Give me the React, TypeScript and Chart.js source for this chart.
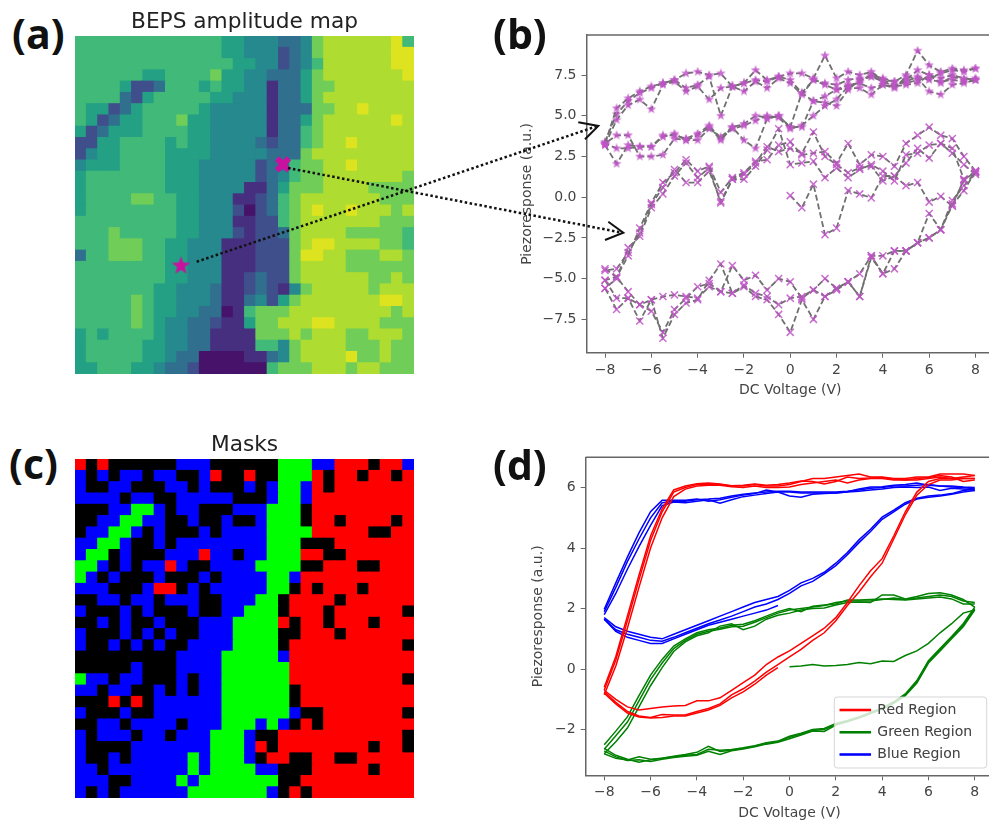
import React, { useEffect, useRef } from "react";
import { Chart, registerables } from "chart.js";

Chart.register(...registerables);

const FONT = "'DejaVu Sans'";
const TEXT = "#444";
const SPINE = "#666";

// ---------- (a) amplitude map: one digit per cell, 0 (low) to 9 (high) ----------
const amplitudeRows = [
  "666666666666655444334788888896",
  "666666666666655444234788888899",
  "666666666666665544234688888899",
  "666666556666755443335788888889",
  "666652236665655441335778888888",
  "666632566666554441335788888888",
  "655235666665444441333778898888",
  "652355666755444441335788888898",
  "523555666655444441336788888888",
  "225566665655444432336788988888",
  "245566665555444443337888888888",
  "455566665554444423367788988888",
  "566666665554444423467788888887",
  "566666665554444113577788887777",
  "566667766554441123678888888777",
  "566666666554442023678988988878",
  "666666666554441122678888888777",
  "666766666554442122378888777776",
  "666777665544411122278998888776",
  "366777665544411122279988777887",
  "666666665544411122278888777777",
  "666666665544411232278888887787",
  "666666655444311232147888887888",
  "666667655444311342578888888998",
  "666667655443301677788888888878",
  "666667654433211577888998888777",
  "565666654433111177787888778887",
  "566666554433111166478888777877",
  "566666554330000113478888977877",
  "556665543320000006777888788777",
];
const amplitudePalette = [
  "#47126a", "#472f80", "#3f4f8b", "#30708e", "#25898e",
  "#24a084", "#41b978", "#70ce58", "#aedc30", "#dde31f",
];
const starCell = [8.88, 19.9];
const crossCell = [17.9, 10.9];

// ---------- (c) masks: R, G, B or K per cell ----------
const maskRows = [
  "RKRKKKKKKBBBKKKKKKGGGBBRRRKRRB",
  "BKBKBBKBBKKBRKKRKKGGGRKRRKRRKR",
  "BKKBBKKKBBKBKKKBKBGGBRKRRRRRRR",
  "BBBBKBBKKBBBBBKKKBGGBRRRRRRRRR",
  "KKKBBGGBKBBKKKBBBGGGKRRRRRRRRR",
  "KKBBGGBBKKBKKBKKBGGGKRRKRRRRKR",
  "KBBGGBKBKKKBKBBBBGGGGRRRRRKKRR",
  "BBGGBKKBKBBBBBBBBGGGKKKRRRRRRR",
  "BGGKBKKKBBBRBBKBBGGGRRKKRRRRRR",
  "GGBKBKBBRBKKBBBBGGGGKKRRRKKRRR",
  "GBKBKKKBKKKBKBBBBGGBRRRRRRRRRR",
  "BBBKKKBRRKBKBBBBBGGKRKRRRKRRRR",
  "KKBBKBBKBBBKKBBBGGKRRRRKRRRRRR",
  "BKKKBKBKKKBKKBBGGGKRRRKRRRRRRK",
  "KKBKBKKBKKKBBBGGGGRKRRKRRRKRRR",
  "BKKKBKBKBKKBBBGGGGKKRRRKRRRRRR",
  "BKKBKBKBKKBBBBGGGGKRRRRRRRRRRK",
  "KKKKKKKKKBBBBGGGGGBRRRRRRRRRRR",
  "KKKKKBKKKBBBBGGGGGGRRRRRRRRRRR",
  "GBBKBBKKKBKBBGGGGGGRRRRRRRRRRK",
  "BBKBBKKBKBKBBGGGGGGKRRRRRRRRRR",
  "KKKRKRKBBBBBBGGGGGGKRRRRRRRRRR",
  "BKKKBKKBBBBBBGGGGGGBKKRRRRRRRK",
  "KKBBKBBBBKBBBGGGBGBKRKRRRRRRRR",
  "BKBBBKBBKBBBGGGBKKRRRRRRRRRRRK",
  "BKKKKBBBBBBBGGGBRKRRRRRRRRKRRK",
  "BKKBKBBBBBGBGGGBKRRKKRRKKRRRRR",
  "BBKBBBBBBBGBGGGGBBKKKRRRRRKRRR",
  "BBBKKBBBBGBGGGGGGGKKRRRRRRRRRR",
  "BKBKBBBBBBGGGGGGGBKRKRRRRRRRRR",
];
const maskPalette: Record<string, string> = { R: "#ff0000", G: "#00ff00", B: "#0000ff", K: "#000000" };

// ---------- voltage sweeps ----------
const voltsUp = [-8, -7.5, -7, -6.5, -6, -5.5, -5, -4.5, -4, -3.5, -3, -2.5, -2, -1.5, -1, -0.5, 0, 0.5, 1, 1.5, 2, 2.5, 3, 3.5, 4, 4.5, 5, 5.5, 6, 6.5, 7, 7.5, 8];
const voltsDown = [8, 7.5, 7, 6.5, 6, 5.5, 5, 4.5, 4, 3.5, 3, 2.5, 2, 1.5, 1, 0.5, 0, -0.5, -1, -1.5, -2, -2.5, -3, -3.5, -4, -4.5, -5, -5.5, -6, -6.5, -7, -7.5, -8];
const voltsStart = [0, 0.5, 1, 1.5, 2, 2.5, 3, 3.5, 4, 4.5, 5, 5.5, 6, 6.5, 7, 7.5, 8];
const voltsEnd = [-0.5, -1, -1.5, -2, -2.5, -3, -3.5, -4, -4.5, -5, -5.5, -6, -6.5, -7, -7.5, -8];

// ---------- (b) star-marked pixel ----------
const starUp1 = [3.3, 5.46, 6.07, 6.5, 6.8, 7.0, 7.2, 7.6, 7.7, 7.5, 7.6, 6.8, 7.0, 7.8, 7.2, 7.4, 7.6, 7.6, 7.3, 8.7, 7.3, 7.7, 7.5, 7.7, 7.2, 7.1, 7.5, 9.0, 8.1, 7.7, 7.9, 7.8, 7.9];
const starUp2 = [3.2, 4.75, 5.65, 6.0, 5.4, 6.9, 7.1, 6.5, 6.8, 6.0, 6.7, 6.8, 6.5, 7.1, 6.7, 7.3, 7.0, 6.3, 7.2, 6.9, 6.6, 6.7, 6.7, 6.3, 6.9, 6.7, 7.4, 7.3, 6.5, 6.3, 6.9, 7.0, 7.2];
const starUp3 = [3.4, 5.1, 5.9, 6.4, 6.7, 7.0, 7.2, 6.7, 6.9, 7.4, 5.0, 6.8, 7.0, 7.2, 7.1, 7.4, 7.2, 6.4, 5.9, 5.8, 5.6, 6.6, 7.2, 7.4, 7.1, 6.8, 7.2, 7.8, 7.5, 7.3, 7.5, 7.3, 7.2];
const starDown1 = [7.2, 7.1, 7.2, 7.1, 7.2, 7.4, 7.1, 6.9, 7.2, 7.4, 7.3, 7.2, 6.9, 7.0, 7.2, 6.4, 4.3, 5.0, 4.9, 5.0, 4.5, 4.3, 3.5, 4.3, 3.8, 3.5, 3.9, 3.7, 3.1, 3.1, 3.0, 3.0, 3.3];
const starDown2 = [7.3, 7.2, 7.4, 7.0, 7.5, 7.0, 6.9, 6.8, 6.9, 6.7, 7.0, 6.9, 6.6, 6.2, 5.9, 4.3, 4.3, 5.0, 4.8, 3.0, 3.5, 4.3, 3.7, 4.2, 3.5, 3.5, 3.6, 2.6, 2.5, 2.5, 3.8, 3.8, 3.3];
const starDown3 = [7.9, 7.7, 7.8, 7.6, 7.3, 7.2, 7.0, 7.1, 7.3, 7.5, 7.1, 6.8, 6.0, 5.6, 5.0, 4.4, 4.2, 4.9, 5.0, 4.7, 4.4, 4.2, 3.6, 4.4, 3.9, 3.6, 3.8, 3.8, 3.1, 3.1, 3.2, 2.05, 3.2];

// ---------- (b) cross-marked pixel ----------
const crossUp1 = [-5.6, -6.9, -6.2, -7.6, -6.3, -8.66, -7.2, -6.5, -6.3, -5.1, -4.1, -5.9, -5.5, -6.1, -6.3, -7.2, -8.3, -6.3, -7.5, -6.1, -5.6, -5.2, -6.1, -3.7, -4.7, -4.4, -3.3, -2.8, -2.5, -2.0, -0.5, 0.4, 1.6];
const crossUp2 = [-5.1, -6.2, -6.2, -6.6, -7.0, -8.3, -6.9, -6.2, -5.5, -5.3, -5.8, -4.2, -5.1, -4.8, -5.7, -5.0, -5.2, -6.2, -5.7, -5.0, -5.6, -5.2, -4.7, -3.6, -3.6, -3.3, -3.3, -2.8, -1.0, -2.0, -0.2, 0.7, 1.5];
const crossUp3 = [-4.4, -4.9, -5.8, -6.6, -6.3, -6.1, -6.0, -6.1, -6.2, -5.5, -5.8, -5.9, -5.4, -5.9, -6.1, -6.6, -6.2, -6.1, -5.7, -6.1, -5.7, -5.2, -6.1, -3.6, -4.7, -3.3, -3.3, -2.8, -2.5, -2.0, -0.4, 1.0, 1.6];
const crossDown1 = [1.6, 2.5, 3.6, 3.8, 4.3, 3.8, 3.3, 1.9, 2.5, 2.6, 2.0, 3.3, 2.1, 2.8, 2.7, 2.6, 3.4, 3.2, 2.3, 2.2, 1.5, 1.2, 0.3, 1.9, 1.6, 2.3, 1.5, 0.9, -0.35, -1.9, -3.6, -4.9, -5.1];
const crossDown2 = [1.5, 1.1, 3.0, 3.3, 3.2, 2.7, 2.6, 1.0, 1.6, 2.0, 1.7, 1.2, 1.8, 1.2, 2.2, 2.1, 2.0, 4.2, 2.9, 1.9, 1.1, 1.1, -0.25, 1.6, 0.9, 0.9, 1.7, 0.6, -0.45, -2.2, -3.4, -4.4, -4.5];
const crossDown3 = [1.4, 2.0, 2.7, 3.3, 2.4, 3.0, 2.1, 1.3, 1.0, 1.9, 1.8, 1.5, 2.0, 2.5, 4.0, 2.7, 3.0, 2.8, 3.1, 2.1, 1.4, 1.1, -0.35, 1.8, 1.2, 2.1, 1.3, 0.2, -0.65, -2.4, -3.1, -5.0, -5.6];
const crossStart = [0.1, -0.65, 0.8, -2.3, -1.9, 0.4, 0.2, -0.05, 1.3, 1.3, 0.7, 0.9, -0.3, 0.05, -0.55, 1.1, 1.6];

// ---------- (d) region averages ----------
const redUp1 = [-0.7, 0.3, 1.6, 2.95, 4.25, 5.2, 5.85, 6.0, 6.1, 6.12, 6.1, 6.05, 6.05, 6.1, 6.05, 6.05, 6.1, 6.2, 6.3, 6.3, 6.35, 6.4, 6.45, 6.35, 6.35, 6.3, 6.3, 6.35, 6.35, 6.45, 6.45, 6.45, 6.4];
const redUp2 = [-0.85, 0.1, 1.35, 2.7, 4.0, 5.0, 5.7, 5.95, 6.05, 6.08, 6.08, 6.03, 6.0, 6.05, 6.0, 6.0, 6.02, 6.1, 6.15, 6.2, 6.25, 6.15, 6.25, 6.3, 6.3, 6.25, 6.25, 6.25, 6.3, 6.35, 6.3, 6.3, 6.3];
const redUp3 = [-0.6, 0.42, 1.75, 3.1, 4.4, 5.3, 5.92, 6.05, 6.13, 6.15, 6.12, 6.06, 6.08, 6.12, 6.08, 6.1, 6.15, 6.22, 6.2, 6.12, 6.2, 6.35, 6.3, 6.32, 6.33, 6.28, 6.25, 6.3, 6.33, 6.4, 6.35, 6.2, 6.25];
const redLow1 = [6.4, 6.35, 6.3, 6.3, 6.2, 5.85, 5.2, 4.4, 3.65, 3.25, 2.75, 2.2, 1.7, 1.35, 1.1, 0.85, 0.6, 0.4, 0.15, -0.2, -0.45, -0.7, -0.95, -1.05, -1.05, -1.2, -1.22, -1.25, -1.3, -1.35, -1.25, -1.0, -0.7];
const redLow2 = [6.3, 6.3, 6.25, 6.25, 6.1, 5.75, 5.1, 4.3, 3.5, 3.05, 2.55, 2.1, 1.6, 1.2, 0.95, 0.65, 0.4, 0.15, -0.1, -0.4, -0.65, -0.85, -1.15, -1.3, -1.4, -1.52, -1.52, -1.5, -1.6, -1.55, -1.4, -1.1, -0.75];
const redEnd = [0.05, -0.2, -0.5, -0.75, -0.95, -1.2, -1.35, -1.45, -1.55, -1.55, -1.6, -1.62, -1.58, -1.45, -1.15, -0.8];

const greenUp1 = [-2.65, -2.2, -1.75, -1.05, -0.35, 0.2, 0.68, 0.95, 1.15, 1.25, 1.32, 1.4, 1.42, 1.55, 1.7, 1.85, 1.95, 2.0, 2.05, 2.1, 2.2, 2.25, 2.25, 2.25, 2.3, 2.35, 2.3, 2.35, 2.4, 2.45, 2.4, 2.25, 2.2];
const greenUp2 = [-2.8, -2.4, -1.95, -1.25, -0.55, 0.05, 0.58, 0.9, 1.1, 1.2, 1.42, 1.5, 1.3, 1.42, 1.65, 1.78, 1.85, 1.95, 2.0, 2.02, 2.12, 2.2, 2.22, 2.2, 2.45, 2.45, 2.32, 2.4, 2.5, 2.52, 2.45, 2.3, 2.05];
const greenUp3 = [-2.5, -2.05, -1.58, -0.88, -0.2, 0.32, 0.76, 1.0, 1.2, 1.3, 1.36, 1.45, 1.48, 1.6, 1.75, 1.9, 2.0, 1.9, 2.08, 2.12, 2.15, 2.28, 2.28, 2.3, 2.32, 2.3, 2.28, 2.32, 2.35, 2.38, 2.32, 2.15, 2.15];
const greenLow1 = [2.0, 1.45, 1.05, 0.65, 0.25, -0.42, -0.85, -1.1, -1.3, -1.45, -1.6, -1.72, -1.83, -2.0, -2.03, -2.15, -2.25, -2.4, -2.45, -2.55, -2.62, -2.68, -2.72, -2.55, -2.75, -2.82, -2.88, -2.95, -2.98, -2.9, -3.0, -2.95, -2.8];
const greenLow2 = [1.95, 1.4, 1.0, 0.6, 0.2, -0.46, -0.88, -1.13, -1.33, -1.47, -1.62, -1.74, -1.85, -2.06, -2.05, -2.18, -2.3, -2.42, -2.48, -2.57, -2.64, -2.7, -2.82, -2.72, -2.85, -2.88, -2.92, -2.98, -3.05, -3.0, -3.02, -2.9, -2.7];
const greenLow3 = [2.05, 1.5, 1.08, 0.68, 0.28, -0.38, -0.82, -1.08, -1.28, -1.43, -1.58, -1.7, -1.8, -1.96, -2.0, -2.12, -2.22, -2.38, -2.43, -2.53, -2.6, -2.66, -2.68, -2.65, -2.82, -2.85, -2.9, -2.95, -3.0, -3.08, -2.98, -2.85, -2.62];
const greenStart = [0.08, 0.1, 0.15, 0.1, 0.12, 0.15, 0.22, 0.18, 0.27, 0.25, 0.45, 0.6, 0.85, 1.2, 1.5, 1.85, 1.95];

const blueUp1 = [1.9, 2.7, 3.55, 4.3, 5.0, 5.5, 5.55, 5.55, 5.6, 5.62, 5.65, 5.72, 5.78, 5.82, 5.85, 5.88, 5.88, 5.85, 5.85, 5.85, 5.85, 5.88, 5.92, 5.98, 6.0, 6.05, 6.05, 6.08, 6.1, 6.05, 6.02, 6.0, 5.95];
const blueUp2 = [1.8, 2.5, 3.3, 4.05, 4.75, 5.4, 5.52, 5.5, 5.55, 5.6, 5.48, 5.6, 5.7, 5.75, 5.8, 5.85, 5.72, 5.68, 5.78, 5.8, 5.82, 5.85, 5.88, 5.92, 5.95, 6.0, 6.02, 6.0, 6.02, 5.9, 5.98, 5.95, 5.9];
const blueUp3 = [1.98, 2.85, 3.7, 4.5, 5.2, 5.58, 5.58, 5.58, 5.62, 5.55, 5.6, 5.68, 5.75, 5.8, 5.92, 5.85, 5.85, 5.82, 5.82, 5.82, 5.82, 5.86, 5.95, 6.02, 6.03, 6.08, 6.1, 6.15, 6.08, 6.05, 6.05, 6.02, 6.0];
const blueLow1 = [5.95, 5.9, 5.8, 5.75, 5.72, 5.65, 5.5, 5.25, 5.02, 4.62, 4.27, 3.85, 3.5, 3.2, 3.0, 2.85, 2.6, 2.4, 2.3, 2.2, 2.05, 1.9, 1.75, 1.6, 1.45, 1.3, 1.15, 1.0, 1.05, 1.15, 1.25, 1.4, 1.7];
const blueLow2 = [5.9, 5.85, 5.78, 5.72, 5.68, 5.62, 5.45, 5.2, 4.95, 4.55, 4.18, 3.78, 3.42, 3.15, 2.9, 2.75, 2.5, 2.3, 2.15, 2.05, 1.9, 1.75, 1.62, 1.5, 1.35, 1.2, 1.05, 0.92, 0.95, 1.05, 1.15, 1.3, 1.65];
const blueEnd = [2.1, 1.95, 1.85, 1.75, 1.65, 1.55, 1.45, 1.3, 1.15, 1.0, 0.85, 0.85, 0.95, 1.05, 1.25, 1.65];

const xTicks = { min: -8.8, max: 8.8, stepSize: 2 };

const pairUp = (xs: number[], ys: number[]) => ys.map((y, i) => ({ x: xs[i], y }));
const minus = (s: string) => s.replace("-", "\u2212");

function starImage(size: number, color: string) {
  const c = document.createElement("canvas");
  c.width = size;
  c.height = size;
  const g = c.getContext("2d")!;
  const R = size / 2;
  const r = R * 0.42;
  g.beginPath();
  for (let i = 0; i < 10; i++) {
    const a = -Math.PI / 2 + (i * Math.PI) / 5;
    const q = i % 2 ? r : R;
    g.lineTo(R + q * Math.cos(a), R + q * Math.sin(a));
  }
  g.closePath();
  g.fillStyle = color;
  g.fill();
  return c;
}

function gridData(rows: string[], colorOf: (ch: string) => string) {
  const pts: { x: number; y: number }[] = [];
  const colors: string[] = [];
  rows.forEach((row, r) => {
    row.split("").forEach((ch, c) => {
      pts.push({ x: c, y: r });
      colors.push(colorOf(ch));
    });
  });
  return { pts, colors };
}

function heatmapConfig(title: string, rows: string[], colorOf: (ch: string) => string, extra: any[], titleTop: number) {
  const { pts, colors } = gridData(rows, colorOf);
  return {
    type: "scatter",
    data: {
      datasets: [
        ...extra,
        {
          data: pts,
          pointStyle: "rect",
          pointRadius: 8.6,
          pointHoverRadius: 8.6,
          pointBorderWidth: 0,
          pointBackgroundColor: colors,
        },
      ],
    },
    options: {
      animation: false,
      responsive: false,
      devicePixelRatio: 1,
      layout: { padding: 0, autoPadding: false },
      events: [],
      plugins: {
        legend: { display: false },
        tooltip: { enabled: false },
        title: {
          display: true,
          text: title,
          color: "#222",
          font: { family: FONT, size: 21.7, weight: "normal" },
          padding: { top: titleTop, bottom: 1 },
        },
      },
      scales: {
        x: { type: "linear", display: false, min: -0.5, max: 29.5 },
        y: { type: "linear", display: false, min: -0.5, max: 29.5, reverse: true },
      },
    },
  };
}

const topSpine = {
  id: "topSpine",
  afterDraw(chart: any) {
    const { ctx, chartArea: a } = chart;
    ctx.save();
    ctx.strokeStyle = SPINE;
    ctx.lineWidth = 1.5;
    ctx.beginPath();
    ctx.moveTo(a.left, a.top);
    ctx.lineTo(a.right, a.top);
    ctx.stroke();
    ctx.restore();
  },
};

const legendOverlay = {
  id: "legendOverlay",
  afterLayout(chart: any) {
    const { legend, chartArea: a } = chart;
    legend.left = a.right - 161.3;
    legend.right = a.right;
    legend.top = a.bottom - 80.6;
    legend.bottom = a.bottom;
  },
  afterDatasetsDraw(chart: any) {
    const { ctx, legend } = chart;
    ctx.save();
    ctx.beginPath();
    ctx.roundRect(legend.left + 2.3, legend.top + 2.3, 152.4, 71, 3);
    ctx.fillStyle = "rgba(255,255,255,0.8)";
    ctx.fill();
    ctx.strokeStyle = "rgba(204,204,204,0.8)";
    ctx.lineWidth = 1;
    ctx.stroke();
    ctx.restore();
    legend.draw();
  },
};

function lineConfig(datasets: any[], yRange: any, opts: any) {
  const tickFont = { family: FONT, size: 14 };
  return {
    type: "scatter",
    data: { datasets },
    plugins: opts.plugins,
    options: {
      animation: false,
      responsive: false,
      devicePixelRatio: 1,
      events: [],
      layout: { autoPadding: false, padding: { top: opts.padTop, right: opts.padRight, left: 0, bottom: 0 } },
      plugins: { legend: opts.legend, tooltip: { enabled: false }, title: { display: false } },
      scales: {
        x: {
          type: "linear",
          min: xTicks.min,
          max: xTicks.max,
          afterFit: (s: any) => {
            s.height = opts.xHeight;
            s.paddingLeft = 0;
            s.paddingRight = 0;
          },
          grid: { drawOnChartArea: false, drawTicks: true, tickLength: 5, tickColor: SPINE, tickWidth: 1 },
          border: { display: true, color: SPINE, width: 1.5 },
          ticks: {
            stepSize: xTicks.stepSize,
            includeBounds: false,
            autoSkip: false,
            maxRotation: 0,
            minRotation: 0,
            padding: 4,
            color: TEXT,
            font: tickFont,
            callback: (v: number) => minus(String(v)),
          },
          title: {
            display: true,
            text: "DC Voltage (V)",
            color: TEXT,
            font: tickFont,
            padding: { top: 0, bottom: opts.xTitlePad },
          },
        },
        y: {
          type: "linear",
          min: yRange.min,
          max: yRange.max,
          afterFit: (s: any) => {
            s.width = opts.yWidth;
            s.paddingTop = 0;
            s.paddingBottom = 0;
          },
          grid: { drawOnChartArea: false, drawTicks: true, tickLength: 5, tickColor: SPINE, tickWidth: 1 },
          border: { display: true, color: SPINE, width: 1.5 },
          ticks: {
            stepSize: yRange.step,
            includeBounds: false,
            autoSkip: false,
            padding: 5,
            color: TEXT,
            font: tickFont,
            callback: (v: number) => minus(yRange.step % 1 ? v.toFixed(1) : String(v)),
          },
          title: {
            display: true,
            text: "Piezoresponse (a.u.)",
            color: TEXT,
            font: tickFont,
            padding: { top: opts.yTitlePad, bottom: 0 },
          },
        },
      },
    },
  };
}

function useChart(make: () => any) {
  const ref = useRef<HTMLCanvasElement | null>(null);
  useEffect(() => {
    const chart = new Chart(ref.current as any, make());
    return () => chart.destroy();
  }, []);
  return ref;
}

const LINE_GREY = "#707070";
const MARK = "rgba(192,84,200,0.85)";

function makeA() {
  const markers = [
    {
      data: [{ x: crossCell[0], y: crossCell[1] }],
      pointStyle: "crossRot",
      pointRadius: 8.5,
      pointBorderWidth: 6,
      pointBorderColor: "#c9119f",
    },
    {
      data: [{ x: starCell[0], y: starCell[1] }],
      pointStyle: starImage(19, "#c9119f"),
      pointRadius: 9,
    },
  ];
  return heatmapConfig("BEPS amplitude map", amplitudeRows, (ch) => amplitudePalette[Number(ch)], markers, 0);
}

function makeC() {
  return heatmapConfig("Masks", maskRows, (ch) => maskPalette[ch], [], 2);
}

function makeB() {
  const star = starImage(10, MARK);
  const dashed = (xs: number[], ys: number[], marker: any, extra: any) => ({
    data: pairUp(xs, ys),
    showLine: true,
    tension: 0,
    borderColor: LINE_GREY,
    borderWidth: 1.8,
    borderDash: [6, 3],
    pointStyle: marker,
    pointBorderColor: MARK,
    pointBackgroundColor: MARK,
    ...extra,
  });
  const s = { pointRadius: 5, pointBorderWidth: 0 };
  const x = { pointRadius: 5, pointBorderWidth: 1.5 };
  const datasets = [
    dashed(voltsUp, starUp1, star, s),
    dashed(voltsUp, starUp2, star, s),
    dashed(voltsUp, starUp3, star, s),
    dashed(voltsDown, starDown1, star, s),
    dashed(voltsDown, starDown2, star, s),
    dashed(voltsDown, starDown3, star, s),
    dashed(voltsUp, crossUp1, "crossRot", x),
    dashed(voltsUp, crossUp2, "crossRot", x),
    dashed(voltsUp, crossUp3, "crossRot", x),
    dashed(voltsDown, crossDown1, "crossRot", x),
    dashed(voltsDown, crossDown2, "crossRot", x),
    dashed(voltsDown, crossDown3, "crossRot", x),
    dashed(voltsStart, crossStart, "crossRot", x),
  ];
  return lineConfig(datasets, { min: -9.55, max: 9.96, step: 2.5 }, {
    plugins: [topSpine],
    legend: { display: false },
    padTop: 1,
    padRight: 6,
    xHeight: 50.3,
    yWidth: 76.5,
    xTitlePad: 3.9,
    yTitlePad: 8.6,
  });
}

function makeD() {
  const solid = (xs: number[], ys: number[], color: string, label?: string) => ({
    label,
    data: pairUp(xs, ys),
    showLine: true,
    tension: 0,
    borderColor: color,
    backgroundColor: color,
    borderWidth: 1.5,
    pointRadius: 0,
  });
  const RED = "#ff0000";
  const GREEN = "#008000";
  const BLUE = "#0000ff";
  const datasets = [
    solid(voltsUp, redUp1, RED, "Red Region"),
    solid(voltsUp, redUp2, RED),
    solid(voltsUp, redUp3, RED),
    solid(voltsDown, redLow1, RED),
    solid(voltsDown, redLow2, RED),
    solid(voltsEnd, redEnd, RED),
    solid(voltsUp, greenUp1, GREEN, "Green Region"),
    solid(voltsUp, greenUp2, GREEN),
    solid(voltsUp, greenUp3, GREEN),
    solid(voltsDown, greenLow1, GREEN),
    solid(voltsDown, greenLow2, GREEN),
    solid(voltsDown, greenLow3, GREEN),
    solid(voltsStart, greenStart, GREEN),
    solid(voltsUp, blueUp1, BLUE, "Blue Region"),
    solid(voltsUp, blueUp2, BLUE),
    solid(voltsUp, blueUp3, BLUE),
    solid(voltsDown, blueLow1, BLUE),
    solid(voltsDown, blueLow2, BLUE),
    solid(voltsEnd, blueEnd, BLUE),
  ];
  return lineConfig(datasets, { min: -3.51, max: 7.0, step: 2 }, {
    plugins: [topSpine, legendOverlay],
    legend: {
      display: true,
      position: "chartArea",
      align: "start",
      labels: {
        filter: (item: any) => !!item.text,
        boxWidth: 30,
        boxHeight: 1,
        padding: 8.3,
        color: TEXT,
        font: { family: FONT, size: 14 },
      },
    },
    padTop: 1.3,
    padRight: 6.7,
    xHeight: 49.7,
    yWidth: 63.7,
    xTitlePad: 3.6,
    yTitlePad: 7.6,
  });
}

const abs = (left: number, top: number): React.CSSProperties => ({ position: "absolute", left, top });

const Tag = ({ t, x, y }: { t: string; x: number; y: number }) => (
  <div style={{ ...abs(x, y), font: "700 41px 'Open Sans'", color: "#111", lineHeight: "48px" }}>{t}</div>
);

export default function App() {
  const a = useChart(makeA);
  const b = useChart(makeB);
  const c = useChart(makeC);
  const d = useChart(makeD);
  return (
    <div style={{ position: "absolute", left: 0, top: 0, width: 989, height: 823, overflow: "hidden", background: "#fff", filter: "blur(0.5px)" }}>
      <canvas ref={a} width={339} height={365} style={abs(75, 9)} />
      <canvas ref={b} width={490} height={369} style={abs(510, 34)} />
      <canvas ref={c} width={339} height={368} style={abs(75, 430)} />
      <canvas ref={d} width={478} height={369} style={abs(522, 456)} />
      <Tag t="(a)" x={12} y={9} />
      <Tag t="(b)" x={493} y={9} />
      <Tag t="(c)" x={9} y={439} />
      <Tag t="(d)" x={493} y={440} />
      <svg width={989} height={823} style={abs(0, 0)}>
        <g fill="none" stroke="#111">
          <line x1={196.7} y1={261.7} x2={596} y2={126.5} strokeWidth={2.5} strokeDasharray="2.5 2.5" />
          <line x1={288} y1={168} x2={621} y2={232.5} strokeWidth={2.5} strokeDasharray="2.5 2.5" />
          <polyline points="578.3,122.3 598.3,126 585,139.3" strokeWidth={2} />
          <polyline points="608.3,221.7 623.3,232.7 605,240" strokeWidth={2} />
        </g>
      </svg>
    </div>
  );
}
